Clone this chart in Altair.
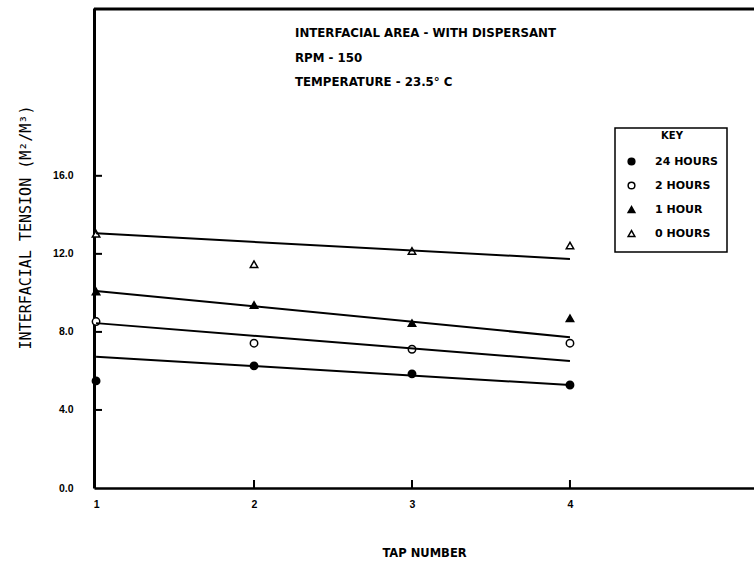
import altair as alt
import pandas as pd

taps = [1, 2, 3, 4]
series_names = ["24 HOURS", "2 HOURS", "1 HOUR", "0 HOURS"]
h24 = [5.49, 6.26, 5.85, 5.28]
h2 = [8.53, 7.42, 7.11, 7.42]
h1 = [10.07, 9.38, 8.45, 8.70]
h0 = [13.03, 11.47, 12.15, 12.43]
fit_x = [1, 4]
fit24 = [6.73, 5.28]
fit2 = [8.45, 6.51]
fit1 = [10.10, 7.73]
fit0 = [13.05, 11.74]
y_ticks = [0, 4, 8, 12, 16]
x_ticks = [2, 3, 4]
notes = ["INTERFACIAL AREA - WITH DISPERSANT", "RPM - 150", "TEMPERATURE - 23.5\u00b0 C"]

vals = [h24, h2, h1, h0]
fits = [fit24, fit2, fit1, fit0]
pts = pd.DataFrame([
    {"series": s, "tap": t, "value": v}
    for s, ser in zip(series_names, vals) for t, v in zip(taps, ser)
])
lines = pd.DataFrame([
    {"series": s, "tap": t, "value": v}
    for s, ser in zip(series_names, fits) for t, v in zip(fit_x, ser)
])

FONT = "Liberation Sans"
WIDE = "DejaVu Sans"
xs = alt.Scale(domain=[0.987, 5.165], nice=False, zero=False)
ys = alt.Scale(domain=[0, 24.6], nice=False, zero=False)

x_axis = alt.Axis(
    values=taps, format="d", ticks=False, grid=False, domainColor="black", domainWidth=2.5,
    labelFont=FONT, labelFontSize=10.5, labelFontWeight="bold", labelColor="black",
    labelPadding=11, title="TAP NUMBER", titleFont=WIDE, titleFontSize=11.5,
    titleFontWeight="bold", titleColor="black", titleY=59)
y_axis = alt.Axis(
    values=y_ticks, format=".1f", ticks=False, grid=False, domainColor="black", domainWidth=3,
    labelFont=FONT, labelFontSize=10.5, labelFontWeight="bold", labelColor="black",
    labelPadding=21, title="INTERFACIAL TENSION (M\u00b2/M\u00b3)", titleFont="DejaVu Sans Mono",
    titleFontSize=15, titleFontWeight="normal", titleColor="black", titleX=-61, titleY=219)

legend = alt.Legend(
    orient="none", legendX=532, legendY=123, title="KEY", titleAnchor="middle",
    titleFont=WIDE, titleFontSize=10, titleFontWeight="bold", titleColor="black",
    titlePadding=15, labelFont=WIDE, labelFontSize=11, labelFontWeight="bold",
    labelColor="black", padding=0, rowPadding=11,
    labelOffset=18, symbolStrokeWidth=1.5, symbolSize=45,
)

points = alt.Chart(pts).mark_point(filled=True, size=55, strokeWidth=1.5, opacity=1).encode(
    x=alt.X("tap:Q", scale=xs, axis=x_axis),
    y=alt.Y("value:Q", scale=ys, axis=y_axis),
    shape=alt.Shape("series:N", scale=alt.Scale(domain=series_names,
                    range=["circle", "circle", "triangle-up", "triangle-up"]), legend=legend),
    fill=alt.Fill("series:N", scale=alt.Scale(domain=series_names,
                  range=["black", "white", "black", "white"]), legend=legend),
    stroke=alt.Stroke("series:N", scale=alt.Scale(domain=series_names,
                      range=["black", "black", "black", "black"]), legend=legend),
)

fit_lines = alt.Chart(lines).mark_line(color="black", strokeWidth=2).encode(
    x=alt.X("tap:Q", scale=xs, axis=x_axis),
    y=alt.Y("value:Q", scale=ys, axis=y_axis),
    detail="series:N",
)

yt = alt.Chart(pd.DataFrame({"v": y_ticks[1:]})).mark_rule(color="black", strokeWidth=2).encode(
    y=alt.Y("v:Q", scale=ys, axis=y_axis), x=alt.value(0), x2=alt.value(8))
xt = alt.Chart(pd.DataFrame({"t": x_ticks})).mark_rule(color="black", strokeWidth=2).encode(
    x=alt.X("t:Q", scale=xs, axis=x_axis), y=alt.value(480), y2=alt.value(472))
top = alt.Chart(pd.DataFrame({"a": [0]})).mark_rule(color="black", strokeWidth=3).encode(
    x=alt.value(0), x2=alt.value(660), y=alt.value(1))
key_box = alt.Chart(pd.DataFrame({"a": [0]})).mark_rect(
    fill="white", stroke="black", strokeWidth=1.5).encode(
    x=alt.value(521), x2=alt.value(633), y=alt.value(120), y2=alt.value(244))

note_layers = []
for txt, yy in zip(notes, [25, 50, 74]):
    note_layers.append(
        alt.Chart(pd.DataFrame({"t": [txt]})).mark_text(
            align="left", baseline="middle", font=WIDE, fontSize=11.8, fontWeight="bold", color="black"
        ).encode(text="t:N", x=alt.value(201), y=alt.value(yy))
    )

chart = alt.layer(points, fit_lines, yt, xt, top, key_box, *note_layers).properties(
    width=660, height=480,
    padding={"left": 94, "top": 8, "right": 0, "bottom": 74},
    autosize="none",
).configure_view(stroke=None).configure(background="white")

chart.save("out.html", embed_options={"renderer": "svg", "actions": False})
